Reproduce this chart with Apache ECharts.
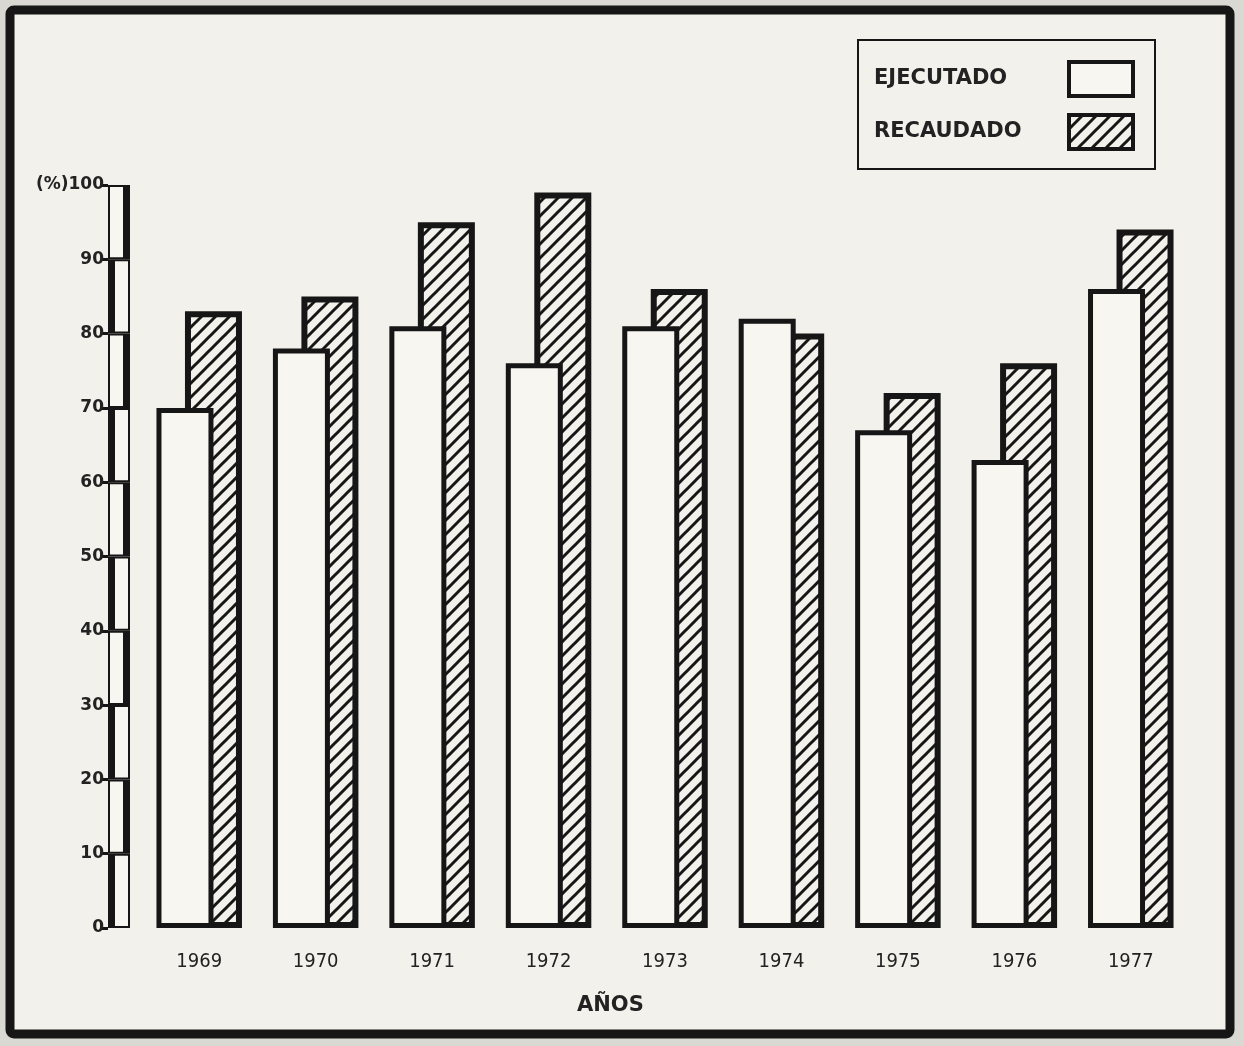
<!DOCTYPE html>
<html>
<head>
<meta charset="utf-8">
<script src="https://cdn.jsdelivr.net/npm/echarts@6/dist/echarts.min.js"></script>
<style>
  html, body { margin: 0; padding: 0; background: #d9d8d2; }
  #chart { width: 1244px; height: 1046px; }
</style>
</head>
<body>
<div id="chart"></div>
<script>
// ---- data ----
const years = ['1969', '1970', '1971', '1972', '1973', '1974', '1975', '1976', '1977'];
const ejecutado = [70, 78, 81, 76, 81, 82, 67, 63, 86];
const recaudado = [83, 85, 95, 99, 86, 80, 72, 76, 94];
const yTicks = [0, 10, 20, 30, 40, 50, 60, 70, 80, 90];
const seriesNames = ['EJECUTADO', 'RECAUDADO'];
const xTitle = 'AÑOS';

// ---- hatch pattern ----
const INK = '#161616';
const PAPER = '#f2f1eb';
function makeHatch() {
  const s = 14;
  const c = document.createElement('canvas');
  c.width = s; c.height = s;
  const g = c.getContext('2d');
  g.fillStyle = PAPER; g.fillRect(0, 0, s, s);
  g.strokeStyle = INK; g.lineWidth = 3; g.lineCap = 'square';
  const seg = (x1, y1, x2, y2) => { g.beginPath(); g.moveTo(x1, y1); g.lineTo(x2, y2); g.stroke(); };
  seg(0, s, s, 0);
  seg(-s / 2, s / 2, s / 2, -s / 2);
  seg(s / 2, s * 1.5, s * 1.5, s / 2);
  return c;
}
const hatch = { image: makeHatch(), repeat: 'repeat' };

const chart = echarts.init(document.getElementById('chart'), null, { renderer: 'canvas' });

const gridTop = 185, gridBottom = 118;

const option = {
  backgroundColor: '#d9d8d2',
  animation: false,
  graphic: [{
    type: 'rect', z: -10, silent: true,
    shape: { x: 10, y: 10, width: 1220, height: 1024, r: 4 },
    style: { fill: PAPER, stroke: INK, lineWidth: 9 }
  }],
  title: {
    text: xTitle, left: 572, top: 990,
    textStyle: { fontFamily: 'DejaVu Sans', fontWeight: 'bold', fontSize: 21, color: '#222' }
  },
  legend: {
    data: seriesNames,
    orient: 'vertical', align: 'right',
    left: 858, top: 40,
    padding: [20, 20, 18, 16],
    itemGap: 15, itemWidth: 64, itemHeight: 34,
    backgroundColor: PAPER, borderColor: INK, borderWidth: 2,
    icon: 'rect',
    itemStyle: { borderWidth: 4, borderColor: INK },
    formatter: name => '{t|' + name + '}',
    textStyle: {
      fontFamily: 'DejaVu Sans', fontWeight: 'bold', fontSize: 21, color: '#222',
      rich: {
        t: { width: 190, align: 'left', fontFamily: 'DejaVu Sans', fontWeight: 'bold', fontSize: 21, color: '#222' }
      }
    }
  },
  grid: [
    { left: 141, right: 55, top: gridTop, bottom: gridBottom },
    { left: 108, width: 22, top: gridTop, bottom: gridBottom }
  ],
  xAxis: [
    {
      type: 'category', data: years, gridIndex: 0,
      axisLine: { show: false }, axisTick: { show: false },
      axisLabel: { margin: 24, fontFamily: 'DejaVu Sans Condensed', fontSize: 20, color: '#222' }
    },
    { type: 'value', gridIndex: 1, min: 0, max: 1, show: false }
  ],
  yAxis: [
    { type: 'value', gridIndex: 0, min: 0, max: 100, interval: 10, show: false },
    {
      type: 'value', gridIndex: 1, min: 0, max: 100, interval: 10,
      splitLine: { show: false },
      axisLine: { show: false },
      axisTick: { show: true, length: 7, lineStyle: { color: INK, width: 3 } },
      axisLabel: {
        margin: 4, fontFamily: 'DejaVu Sans', fontWeight: 'bold', fontSize: 17, color: '#222',
        formatter: v => (v === 100 ? '(%)100' : String(v))
      }
    }
  ],
  series: [
    {
      name: seriesNames[0], type: 'bar', data: ejecutado,
      xAxisIndex: 0, yAxisIndex: 0, z: 4,
      barWidth: 57, barGap: '-50%',
      itemStyle: { color: '#f7f6f1', borderColor: INK, borderWidth: 5 }
    },
    {
      name: seriesNames[1], type: 'bar', data: recaudado,
      xAxisIndex: 0, yAxisIndex: 0, z: 3,
      barWidth: 57,
      itemStyle: { color: hatch, borderColor: INK, borderWidth: 6 }
    },
    {
      name: 'ruler', type: 'custom', xAxisIndex: 1, yAxisIndex: 1, z: 3,
      data: yTicks.map(v => [v]),
      renderItem: function (params, api) {
        const v = api.value(0);
        const p0 = api.coord([0, v]);
        const p1 = api.coord([1, v + 10]);
        const x = p0[0], y = p1[1], w = p1[0] - p0[0], h = p0[1] - p1[1];
        const even = (params.dataIndex % 2) === 0;
        const inner = even
          ? { x: x + 7, y: y + 2, width: w - 9, height: h - 4 }
          : { x: x + 2, y: y + 2, width: w - 9, height: h - 4 };
        return {
          type: 'group',
          children: [
            { type: 'rect', shape: { x: x, y: y, width: w, height: h }, style: { fill: INK } },
            { type: 'rect', shape: inner, style: { fill: '#f7f6f1' } }
          ]
        };
      }
    }
  ]
};
chart.setOption(option);
</script>
</body>
</html>
